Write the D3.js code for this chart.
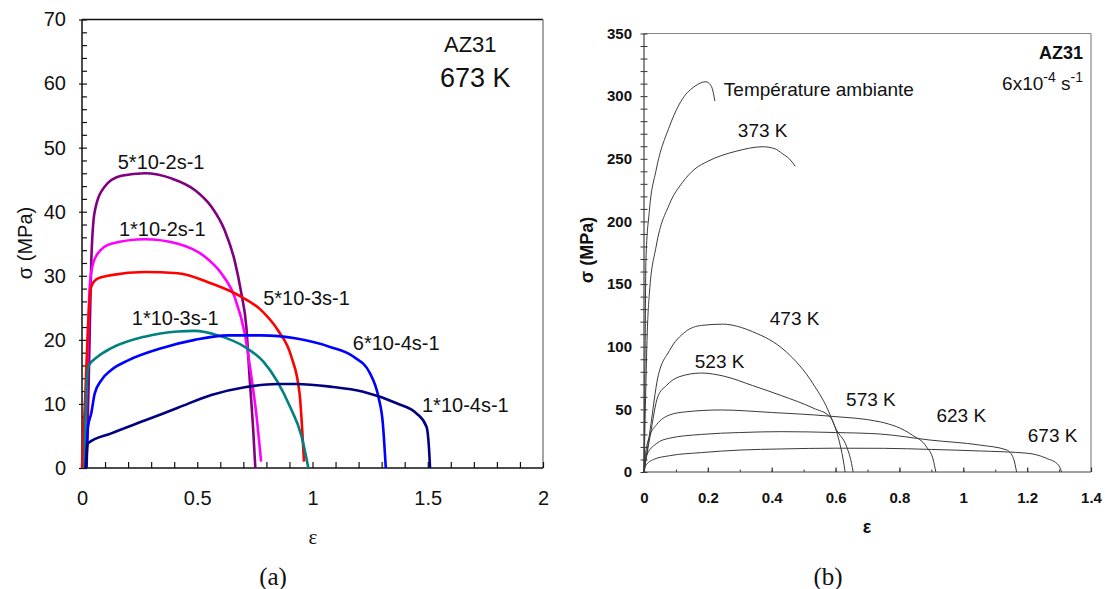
<!DOCTYPE html>
<html><head><meta charset="utf-8">
<script src="https://cdn.jsdelivr.net/npm/d3@7"></script>
<style>
html,body{margin:0;padding:0;background:#fff;}
svg text{font-family:"Liberation Sans",Arial,sans-serif;}
</style></head>
<body><svg id="c" width="1106" height="589"></svg>
<script>
// ---------- Panel (a) data: AZ31, 673 K, different strain rates ----------
const rateLabels = ["5*10-2s-1","1*10-2s-1","5*10-3s-1","1*10-3s-1","6*10-4s-1","1*10-4s-1"];
const rateColors = ["#800080","#ff00ff","#ff0000","#008080","#0000ff","#000080"];
const rate5e2 = [[0.02,0],[0.03,15],[0.04,32],[0.055,40],[0.098,43.9],[0.171,45.6],[0.272,46],[0.388,45.2],[0.489,43.4],[0.561,40.8],[0.619,37.1],[0.662,32.4],[0.691,27.3],[0.713,22],[0.727,14.2],[0.742,6.4],[0.752,0]];
const rate1e2 = [[0.01,0],[0.022,15],[0.033,28],[0.045,31.5],[0.069,33.5],[0.127,35],[0.272,35.7],[0.416,35],[0.532,33],[0.604,30.4],[0.662,26.7],[0.706,21],[0.735,14.2],[0.756,8.5],[0.777,1]];
const rate5e3 = [[0,0],[0.015,12],[0.026,22],[0.04,28.3],[0.069,29.6],[0.127,30.1],[0.272,30.6],[0.416,30.4],[0.561,28.8],[0.677,27],[0.778,24.6],[0.85,21.5],[0.908,17.4],[0.944,11.6],[0.963,1]];
const rate1e3 = [[0.01,0],[0.02,13],[0.03,16],[0.069,17.4],[0.127,18.7],[0.272,20.5],[0.416,21.3],[0.489,21.4],[0.59,20.7],[0.706,18.9],[0.787,16.6],[0.902,9.6],[0.953,4.9],[0.982,0]];
const rate6e4 = [[0.015,0],[0.022,4],[0.026,6.4],[0.04,8.5],[0.055,11.6],[0.084,13.7],[0.127,15.3],[0.2,16.8],[0.344,18.7],[0.489,20],[0.633,20.7],[0.778,20.7],[0.931,20.2],[1.076,18.9],[1.177,17.4],[1.249,14.8],[1.286,11.1],[1.305,7],[1.318,0]];
const rate1e4 = [[0.018,0],[0.022,3],[0.026,3.85],[0.127,5.4],[0.272,7.4],[0.416,9.4],[0.561,11.4],[0.706,12.6],[0.85,13.1],[0.931,13.1],[1.076,12.7],[1.22,11.9],[1.365,10.1],[1.452,8.5],[1.495,6.4],[1.505,3.3],[1.51,0]];
const rateCurves = [rate5e2, rate1e2, rate5e3, rate1e3, rate6e4, rate1e4];
const rateLabelPos = [[0.155,46.6],[0.16,36.2],[0.786,25.5],[0.216,22.3],[1.175,18.4],[1.475,8.8]]; // label anchor in data units
const xTicksA = [0,0.5,1,1.5,2];
const yTicksA = [0,10,20,30,40,50,60,70];

// ---------- Panel (b) data: AZ31, 6x10-4 s-1, different temperatures ----------
const tempLabels = ["Température ambiante","373 K","473 K","523 K","573 K","623 K","673 K"];
const tAmb = [[0,0],[0.003,80],[0.006,169],[0.017,209],[0.038,241],[0.08,276],[0.121,298],[0.16,308],[0.194,311.5],[0.208,309],[0.215,305],[0.222,296]];
const t373 = [[0,0],[0.005,60],[0.01,110],[0.017,143],[0.038,180],[0.08,214],[0.12,231],[0.16,242],[0.2,248],[0.288,256],[0.372,259.6],[0.41,258],[0.434,254],[0.455,250],[0.474,244]];
const t473 = [[0,0],[0.02,35],[0.043,75],[0.08,97],[0.13,112],[0.18,117],[0.246,118],[0.34,112],[0.445,96],[0.528,71],[0.583,45.5],[0.609,27],[0.624,9.6],[0.63,0]];
const t523 = [[0,0],[0.02,30],[0.043,60],[0.07,69],[0.11,76],[0.18,79],[0.25,76.5],[0.34,69],[0.43,61],[0.53,51],[0.583,44],[0.603,33.5],[0.635,20],[0.65,6.9],[0.655,0]];
const t573 = [[0,0],[0.005,15],[0.02,30],[0.04,38],[0.08,45.5],[0.13,48],[0.24,49.5],[0.4,47.5],[0.58,44.6],[0.74,40],[0.84,29.5],[0.885,20],[0.906,9.6],[0.914,0]];
const t623 = [[0,0],[0.006,12],[0.038,22.5],[0.08,27],[0.18,30],[0.3,31.5],[0.43,32.2],[0.6,31.5],[0.74,30.3],[0.896,25.5],[1.052,21.5],[1.136,17.6],[1.157,10.9],[1.167,0]];
const t673 = [[0,0],[0.005,5],[0.03,10],[0.08,13],[0.18,15.5],[0.3,17.5],[0.43,18.4],[0.6,19],[0.75,18.9],[0.9,18],[1.05,16.8],[1.2,15],[1.261,10.9],[1.298,5.6],[1.308,0]];
const tempCurves = [tAmb, t373, t473, t523, t573, t623, t673];
const tempLabelPos = [[0.25,300],[0.294,267.5],[0.394,117],[0.159,83],[0.633,52.5],[0.916,40],[1.202,24]];
const xTicksB = [0,0.2,0.4,0.6,0.8,1,1.2,1.4];
const yTicksB = [0,50,100,150,200,250,300,350];

const svg = d3.select("#c");

// ================= Panel (a) =================
const xA = d3.scaleLinear().domain([0,2]).range([82,543]);
const yA = d3.scaleLinear().domain([0,70]).range([468,19.5]);
const gA = svg.append("g");

gA.append("line").attr("x1",xA(0)).attr("x2",xA(2)).attr("y1",yA(70)).attr("y2",yA(70)).attr("stroke","#111").attr("stroke-width",1.3);
gA.append("line").attr("x1",xA(2)).attr("x2",xA(2)).attr("y1",yA(70)).attr("y2",yA(0)).attr("stroke","#777").attr("stroke-width",1.3);

gA.append("g").attr("transform",`translate(${xA(0)},0)`)
  .call(d3.axisLeft(yA).tickValues(d3.range(0,71,2)).tickSize(-5).tickFormat(""))
  .call(g=>{g.select(".domain").remove(); g.selectAll("line").attr("stroke","#111").attr("stroke-width",1.2);});
gA.append("g").attr("transform",`translate(${xA(0)},0)`)
  .call(d3.axisLeft(yA).tickValues(yTicksA).tickSize(3).tickPadding(13).tickFormat(d3.format("d")))
  .call(g=>{g.select(".domain").remove(); g.selectAll("line").attr("stroke","#111").attr("stroke-width",1.2);
    g.selectAll("text").attr("font-size",20).attr("fill","#111");});
gA.append("g").attr("transform",`translate(0,${yA(0)})`)
  .call(d3.axisBottom(xA).tickValues(d3.range(0,20.5,1).map(d=>d/10)).tickSize(-6).tickFormat(""))
  .call(g=>{g.select(".domain").remove(); g.selectAll("line").attr("stroke","#111").attr("stroke-width",1.2);});
gA.append("g").attr("transform",`translate(0,${yA(0)})`)
  .call(d3.axisBottom(xA).tickValues(xTicksA).tickSize(0).tickPadding(23).tickFormat(d=>String(d)))
  .call(g=>{g.select(".domain").remove();
    g.selectAll("text").attr("font-size",20).attr("fill","#111");});
gA.append("line").attr("x1",xA(0)).attr("x2",xA(0)).attr("y1",yA(0)).attr("y2",yA(70)).attr("stroke","#111").attr("stroke-width",1.5);
gA.append("line").attr("x1",xA(0)).attr("x2",xA(2)).attr("y1",yA(0)).attr("y2",yA(0)).attr("stroke","#111").attr("stroke-width",1.5);

const lineA = d3.line().x(d=>xA(d[0])).y(d=>yA(d[1])).curve(d3.curveMonotoneX);
rateCurves.forEach((c,i)=>{
  gA.append("path").attr("d",lineA(c)).attr("fill","none").attr("stroke",rateColors[i]).attr("stroke-width",2.6).attr("stroke-linejoin","round");
});
rateLabels.forEach((t,i)=>{
  gA.append("text").attr("x",xA(rateLabelPos[i][0])).attr("y",yA(rateLabelPos[i][1])).attr("font-size",20).attr("fill","#111").text(t);
});
gA.append("text").attr("x",444).attr("y",52).attr("font-size",22).attr("fill","#111").text("AZ31");
gA.append("text").attr("x",440).attr("y",87).attr("font-size",27).attr("fill","#111").text("673 K");
gA.append("text").attr("transform","translate(32,243) rotate(-90)").attr("text-anchor","middle").attr("font-size",20).attr("fill","#111").text("σ (MPa)");
gA.append("text").attr("x",313).attr("y",544).attr("text-anchor","middle").attr("font-size",21).attr("fill","#111").style("font-family","Liberation Serif, serif").text("ε");
gA.append("text").attr("x",273).attr("y",585).attr("text-anchor","middle").attr("font-size",25).attr("fill","#111").style("font-family","Liberation Serif, serif").text("(a)");

// ================= Panel (b) =================
const xB = d3.scaleLinear().domain([0,1.4]).range([644,1091]);
const yB = d3.scaleLinear().domain([0,350]).range([472,33.5]);
const gB = svg.append("g");

gB.append("line").attr("x1",xB(0)).attr("x2",xB(1.4)).attr("y1",yB(350)).attr("y2",yB(350)).attr("stroke","#888").attr("stroke-width",1.2);
gB.append("line").attr("x1",xB(1.4)).attr("x2",xB(1.4)).attr("y1",yB(350)).attr("y2",yB(0)).attr("stroke","#888").attr("stroke-width",1.2);

gB.append("g").attr("transform",`translate(${xB(0)},0)`)
  .call(d3.axisLeft(yB).tickValues(d3.range(0,351,10)).tickSizeInner(3.5).tickSizeOuter(0).tickFormat(""))
  .call(g=>{g.select(".domain").remove(); g.selectAll("line").attr("stroke","#333").attr("stroke-width",1).attr("x2",-3.5).attr("x1",3.5);});
gB.append("g").attr("transform",`translate(${xB(0)},0)`)
  .call(d3.axisLeft(yB).tickValues(yTicksB).tickSize(0).tickPadding(12).tickFormat(d3.format("d")))
  .call(g=>{g.select(".domain").remove();
    g.selectAll("text").attr("font-size",15).attr("font-weight","bold").attr("fill","#111");});
gB.append("g").attr("transform",`translate(0,${yB(0)})`)
  .call(d3.axisBottom(xB).tickValues(d3.range(0,14.5,1).map(d=>d/10)).tickSize(-2.5).tickFormat(""))
  .call(g=>{g.select(".domain").remove(); g.selectAll("line").attr("stroke","#333").attr("stroke-width",1);});
gB.append("g").attr("transform",`translate(0,${yB(0)})`)
  .call(d3.axisBottom(xB).tickValues(xTicksB).tickSize(-4.5).tickPadding(20).tickFormat(d=>String(d)))
  .call(g=>{g.select(".domain").remove(); g.selectAll("line").attr("stroke","#333").attr("stroke-width",1.2);
    g.selectAll("text").attr("font-size",15).attr("font-weight","bold").attr("fill","#111");});
gB.append("line").attr("x1",xB(0)).attr("x2",xB(0)).attr("y1",yB(0)).attr("y2",yB(350)).attr("stroke","#444").attr("stroke-width",1.2);
gB.append("line").attr("x1",xB(0)).attr("x2",xB(1.4)).attr("y1",yB(0)).attr("y2",yB(0)).attr("stroke","#444").attr("stroke-width",1.2);

const lineB = d3.line().x(d=>xB(d[0])).y(d=>yB(d[1])).curve(d3.curveMonotoneX);
tempCurves.forEach((c,i)=>{
  gB.append("path").attr("d",lineB(c)).attr("fill","none").attr("stroke","#3a3a3a").attr("stroke-width",1);
});
tempLabels.forEach((t,i)=>{
  gB.append("text").attr("x",xB(tempLabelPos[i][0])).attr("y",yB(tempLabelPos[i][1])).attr("font-size",19).attr("fill","#111").text(t);
});
gB.append("text").attr("x",1083).attr("y",59).attr("text-anchor","end").attr("font-size",18).attr("font-weight","bold").attr("fill","#111").text("AZ31");
const rt = gB.append("text").attr("x",1083).attr("y",90).attr("text-anchor","end").attr("font-size",19).attr("fill","#111");
rt.append("tspan").text("6x10");
rt.append("tspan").attr("dy",-8).attr("font-size",14).text("-4");
rt.append("tspan").attr("dy",8).text(" s");
rt.append("tspan").attr("dy",-8).attr("font-size",14).text("-1");
gB.append("text").attr("transform","translate(593,250) rotate(-90)").attr("text-anchor","middle").attr("font-size",18).attr("font-weight","bold").attr("fill","#111").text("σ (MPa)");
gB.append("text").attr("x",867).attr("y",533).attr("text-anchor","middle").attr("font-size",18).attr("font-weight","bold").attr("fill","#111").text("ε");
gB.append("text").attr("x",828).attr("y",585).attr("text-anchor","middle").attr("font-size",25).attr("fill","#111").style("font-family","Liberation Serif, serif").text("(b)");
</script></body></html>
